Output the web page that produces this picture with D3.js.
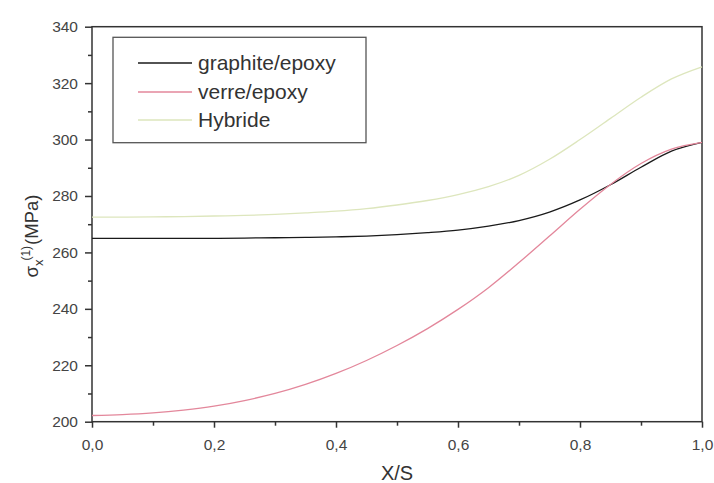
<!DOCTYPE html>
<html>
<head>
<meta charset="utf-8">
<script src="https://cdn.jsdelivr.net/npm/d3@7/dist/d3.min.js"></script>
<style>
  html, body { margin: 0; padding: 0; background: #fff; }
  svg { display: block; font-family: Arial, "Liberation Sans", sans-serif; }
</style>
</head>
<body>
<svg id="chart" width="714" height="483"></svg>
<script>
// Position along the span, X/S
const xs = [0, 0.05, 0.1, 0.15, 0.2, 0.25, 0.3, 0.35, 0.4, 0.45, 0.5,
            0.55, 0.6, 0.65, 0.7, 0.75, 0.8, 0.85, 0.9, 0.95, 1.0];

// Stress sigma_x^(1) in MPa for each laminate
const graphiteEpoxy = [265.0, 265.0, 265.0, 265.0, 265.0, 265.1, 265.2, 265.3, 265.5, 265.8, 266.3,
                       267.0, 267.9, 269.3, 271.3, 274.3, 278.6, 284.0, 290.2, 295.9, 299.0];
const verreEpoxy    = [202.2, 202.5, 203.1, 204.1, 205.5, 207.5, 210.0, 213.2, 217.1, 221.7, 227.0,
                       233.0, 239.8, 247.5, 256.4, 265.8, 275.3, 284.1, 291.5, 296.6, 299.0];
const hybride       = [272.5, 272.5, 272.6, 272.7, 272.9, 273.1, 273.5, 274.0, 274.6, 275.5, 276.8,
                       278.4, 280.5, 283.3, 287.3, 293.0, 300.0, 307.5, 315.0, 321.5, 325.8];

const seriesNames  = ["graphite/epoxy", "verre/epoxy", "Hybride"];
const seriesColors = ["#1a1a1a", "#e3879b", "#dde6bd"];

const xTicks = [0, 0.2, 0.4, 0.6, 0.8, 1.0];
const yTicks = [200, 220, 240, 260, 280, 300, 320, 340];

const svg = d3.select("#chart");
const plot = { left: 92, right: 702, top: 26.7, bottom: 421.7 };

const x = d3.scaleLinear().domain([0, 1]).range([plot.left, plot.right]);
const y = d3.scaleLinear().domain([200, 340]).range([plot.bottom, plot.top]);

const fmt = d => d3.format(".1f")(d).replace(".", ",");
const axisColor = "#333";

// Frame around the plotting area
svg.append("rect")
  .attr("x", plot.left).attr("y", plot.top)
  .attr("width", plot.right - plot.left).attr("height", plot.bottom - plot.top)
  .attr("fill", "none").attr("stroke", axisColor).attr("stroke-width", 1.5);

// Bottom axis: major ticks with labels, minor ticks between
const xMinor = svg.append("g").attr("transform", `translate(0,${plot.bottom})`)
  .call(d3.axisBottom(x).tickValues(d3.range(0.1, 1, 0.2)).tickSize(4).tickFormat(""));
xMinor.select(".domain").remove();
const xMajor = svg.append("g").attr("transform", `translate(0,${plot.bottom})`)
  .call(d3.axisBottom(x).tickValues(xTicks).tickSize(6).tickPadding(11).tickFormat(fmt));
xMajor.select(".domain").remove();
xMajor.selectAll("text").attr("font-size", 15.5).attr("fill", "#444")
  .attr("font-family", "Arial, 'Liberation Sans', sans-serif");

// Left axis
const yMinor = svg.append("g").attr("transform", `translate(${plot.left},0)`)
  .call(d3.axisLeft(y).tickValues(d3.range(210, 340, 20)).tickSize(4).tickFormat(""));
yMinor.select(".domain").remove();
const yMajor = svg.append("g").attr("transform", `translate(${plot.left},0)`)
  .call(d3.axisLeft(y).tickValues(yTicks).tickSize(7).tickPadding(7).tickFormat(d3.format("d")));
yMajor.select(".domain").remove();
yMajor.selectAll("text").attr("font-size", 15.5).attr("fill", "#444")
  .attr("font-family", "Arial, 'Liberation Sans', sans-serif");
svg.selectAll("g.tick line").attr("stroke", axisColor).attr("stroke-width", 1.5);

// Curves
const rows = [graphiteEpoxy, verreEpoxy, hybride];
const line = d3.line()
  .x((d, i) => x(xs[i]))
  .y(d => y(d))
  .curve(d3.curveMonotoneX);

rows.forEach((vals, k) => {
  svg.append("path")
    .datum(vals)
    .attr("d", line)
    .attr("fill", "none")
    .attr("stroke", seriesColors[k])
    .attr("stroke-width", 1.3);
});

// Legend
const legend = svg.append("g");
legend.append("rect")
  .attr("x", 113).attr("y", 37.3).attr("width", 253).attr("height", 105.4)
  .attr("fill", "#fff").attr("stroke", "#555").attr("stroke-width", 1.3);
const rowY = [63, 92, 120];
seriesNames.forEach((name, k) => {
  legend.append("line")
    .attr("x1", 138).attr("x2", 192).attr("y1", rowY[k]).attr("y2", rowY[k])
    .attr("stroke", seriesColors[k]).attr("stroke-width", 1.5);
  legend.append("text")
    .attr("x", 198).attr("y", rowY[k]).attr("dy", "0.35em")
    .attr("font-size", 21).attr("fill", "#333")
    .text(name);
});

// Axis titles
svg.append("text")
  .attr("x", (plot.left + plot.right) / 2).attr("y", 480)
  .attr("text-anchor", "middle").attr("font-size", 20).attr("fill", "#333")
  .text("X/S");

const yTitle = svg.append("text")
  .attr("transform", "translate(38,236) rotate(-90)")
  .attr("text-anchor", "middle").attr("font-size", 18.5).attr("fill", "#333");
yTitle.append("tspan").text("σ");
yTitle.append("tspan").attr("dy", 5).attr("font-size", 13).text("x");
yTitle.append("tspan").attr("dy", -13).attr("dx", -1).attr("font-size", 12).text("(1)");
yTitle.append("tspan").attr("dy", 8).attr("dx", 1).text("(MPa)");
</script>
</body>
</html>
